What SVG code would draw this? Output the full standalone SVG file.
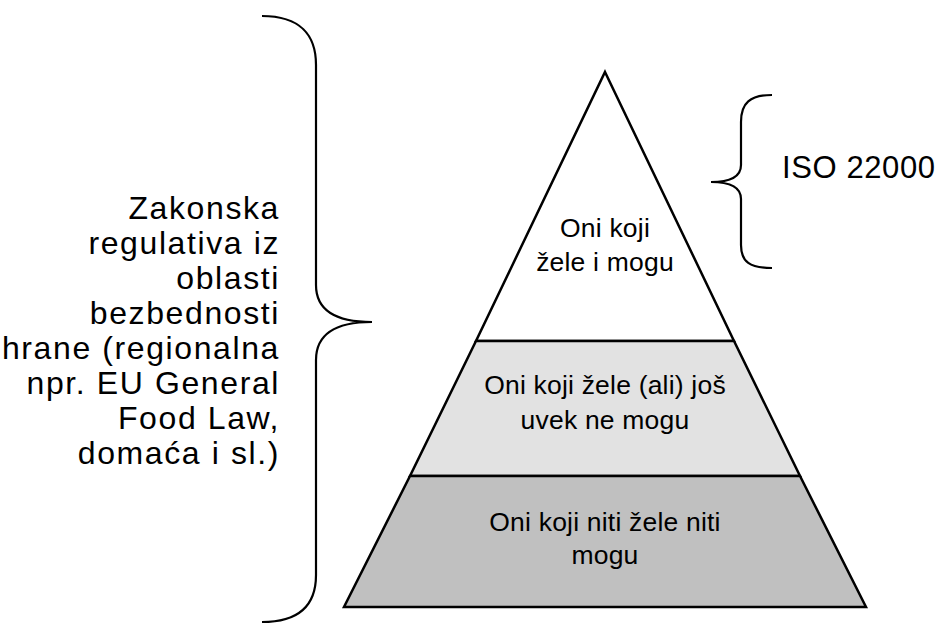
<svg xmlns="http://www.w3.org/2000/svg" width="944" height="626" viewBox="0 0 944 626">
<style>
.t{font-family:"Liberation Sans",Arial,sans-serif;fill:#000}
.l{font-size:32px;letter-spacing:1.6px;text-anchor:end}
.p{font-size:26.5px;letter-spacing:0.2px;text-anchor:middle}
.band{stroke:#000;stroke-width:2.5;stroke-linejoin:miter}
.brace{fill:none;stroke:#000;stroke-width:2.2}
</style>
<rect width="944" height="626" fill="#fff"/>
<g id="top-tier">
<polygon class="band" points="605,72 734,341 476,341" fill="#fff"/>
<text class="t p" x="605" y="237">Oni koji</text>
<text class="t p" x="605" y="271">žele i mogu</text>
</g>
<g id="middle-tier">
<polygon class="band" points="476,341 734,341 800,476 410,476" fill="#e2e2e2"/>
<text class="t p" x="605" y="394">Oni koji žele (ali) još</text>
<text class="t p" x="605" y="429">uvek ne mogu</text>
</g>
<g id="bottom-tier">
<polygon class="band" points="410,476 800,476 866,607 344,607" fill="#c0c0c0"/>
<text class="t p" x="605" y="531">Oni koji niti žele niti</text>
<text class="t p" x="605" y="564">mogu</text>
</g>
<g id="legislation">
<path class="brace" d="M262,16 C300,16 316,35 316,65 L316,285 C316,310 335,322 372,322 C335,322 316,335 316,360 L316,575 C316,605 300,622 262,622"/>
<text class="t l" x="280" y="219">Zakonska</text>
<text class="t l" x="280" y="254">regulativa iz</text>
<text class="t l" x="280" y="289">oblasti</text>
<text class="t l" x="280" y="324">bezbednosti</text>
<text class="t l" x="280" y="359">hrane (regionalna</text>
<text class="t l" x="280" y="394">npr. EU General</text>
<text class="t l" x="280" y="429">Food Law,</text>
<text class="t l" x="280" y="464">domaća i sl.)</text>
</g>
<g id="iso">
<path class="brace" d="M772,95 C750,95 741,103 741,122 L741,165 C741,176 732,182 711,182 C732,182 741,188 741,199 L741,245 C741,262 750,268 772,268"/>
<text class="t" x="782" y="178" style="font-size:31px;letter-spacing:0.6px">ISO 22000</text>
</g>
</svg>
